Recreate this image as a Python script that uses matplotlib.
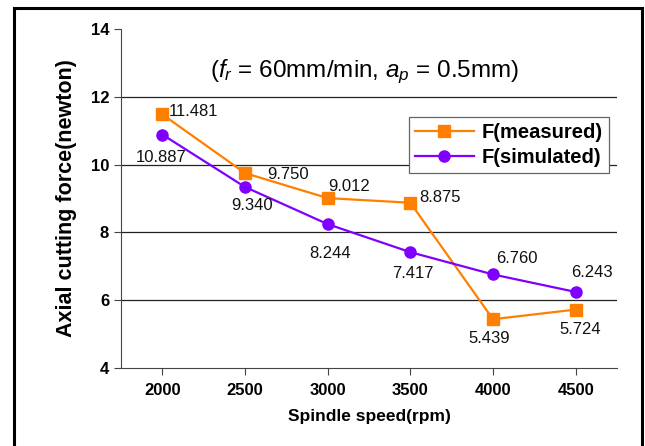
import matplotlib.pyplot as plt
from matplotlib.patches import Rectangle

plt.rcParams['font.family'] = ['Liberation Sans', 'DejaVu Sans']
plt.rcParams['mathtext.fontset'] = 'custom'
plt.rcParams['mathtext.rm'] = 'Liberation Sans'
plt.rcParams['mathtext.it'] = 'Liberation Sans:italic'

speeds = ['2000', '2500', '3000', '3500', '4000', '4500']
measured = [11.481, 9.750, 9.012, 8.875, 5.439, 5.724]
simulated = [10.887, 9.340, 8.244, 7.417, 6.760, 6.243]

# label offsets in points (dx, dy) and alignment
meas_off = [(4.3, 2, 'left'), (16, -0.7, 'left'), (0.7, 8, 'left'), (6.5, 3.6, 'left'),
            (-3, -13.7, 'center'), (3.6, -14.4, 'center')]
sim_off = [(-0.7, -16.6, 'center'), (5, -13, 'center'), (2, -21, 'center'), (2, -15, 'center'),
           (2, 11.5, 'left'), (-3, 13.7, 'left')]

fig = plt.figure(figsize=(6.45, 4.46), dpi=100)
ax = fig.add_axes([0.1876, 0.1749, 0.769, 0.760])

x = list(range(len(speeds)))
ax.plot(x, measured, color='#FF8000', marker='s', markersize=8, lw=1.6, label='F(measured)', zorder=3)
ax.plot(x, simulated, color='#7F00FF', marker='o', markersize=8, lw=1.6, label='F(simulated)', zorder=3)

for i in x:
    dx, dy, ha = meas_off[i]
    ax.annotate('%.3f' % measured[i], (i, measured[i]), xytext=(dx, dy), textcoords='offset points',
                ha=ha, va='center', fontsize=12, color='#111111')
    dx, dy, ha = sim_off[i]
    ax.annotate('%.3f' % simulated[i], (i, simulated[i]), xytext=(dx, dy), textcoords='offset points',
                ha=ha, va='center', fontsize=12, color='#111111')

ax.set_xlim(-0.5, len(speeds) - 0.5)
ax.set_ylim(4, 14)
ax.set_yticks([4, 6, 8, 10, 12, 14])
ax.set_xticks(x)
ax.set_xticklabels(speeds)
for g in [6, 8, 10, 12]:
    ax.axhline(g, color='#222222', lw=0.9, zorder=1)

ax.spines['top'].set_visible(False)
ax.spines['right'].set_visible(False)
ax.spines['left'].set_color('#444444')
ax.spines['bottom'].set_color('#444444')
ax.tick_params(direction='out', length=5, color='#444444', labelsize=12)
ax.tick_params(axis='x', pad=6)
for lab in ax.get_xticklabels() + ax.get_yticklabels():
    lab.set_fontweight('bold')

ax.set_xlabel('Spindle speed(rpm)', fontsize=12.5, fontweight='bold', labelpad=8)
ax.set_ylabel('Axial cutting force(newton)', fontsize=15.5, fontweight='bold', labelpad=10)

ax.text(0.492, 0.873, r'($f_r$ = 60mm/min, $a_p$ = 0.5mm)', transform=ax.transAxes,
        ha='center', va='center', fontsize=17.5)

leg = ax.legend(loc='upper left', bbox_to_anchor=(0.581, 0.740), prop={'weight': 'bold', 'size': 14.5},
                fancybox=False, edgecolor='#666666', framealpha=1, handlelength=2.9,
                borderpad=0.3, labelspacing=0.3, handletextpad=0.4, borderaxespad=0)
leg.get_frame().set_linewidth(0.9)

fig.patches.append(Rectangle((0.021, -0.05), 0.975, 1.032, transform=fig.transFigure,
                             fill=False, edgecolor='black', lw=2.2))

fig.savefig('out.png', dpi=100)
